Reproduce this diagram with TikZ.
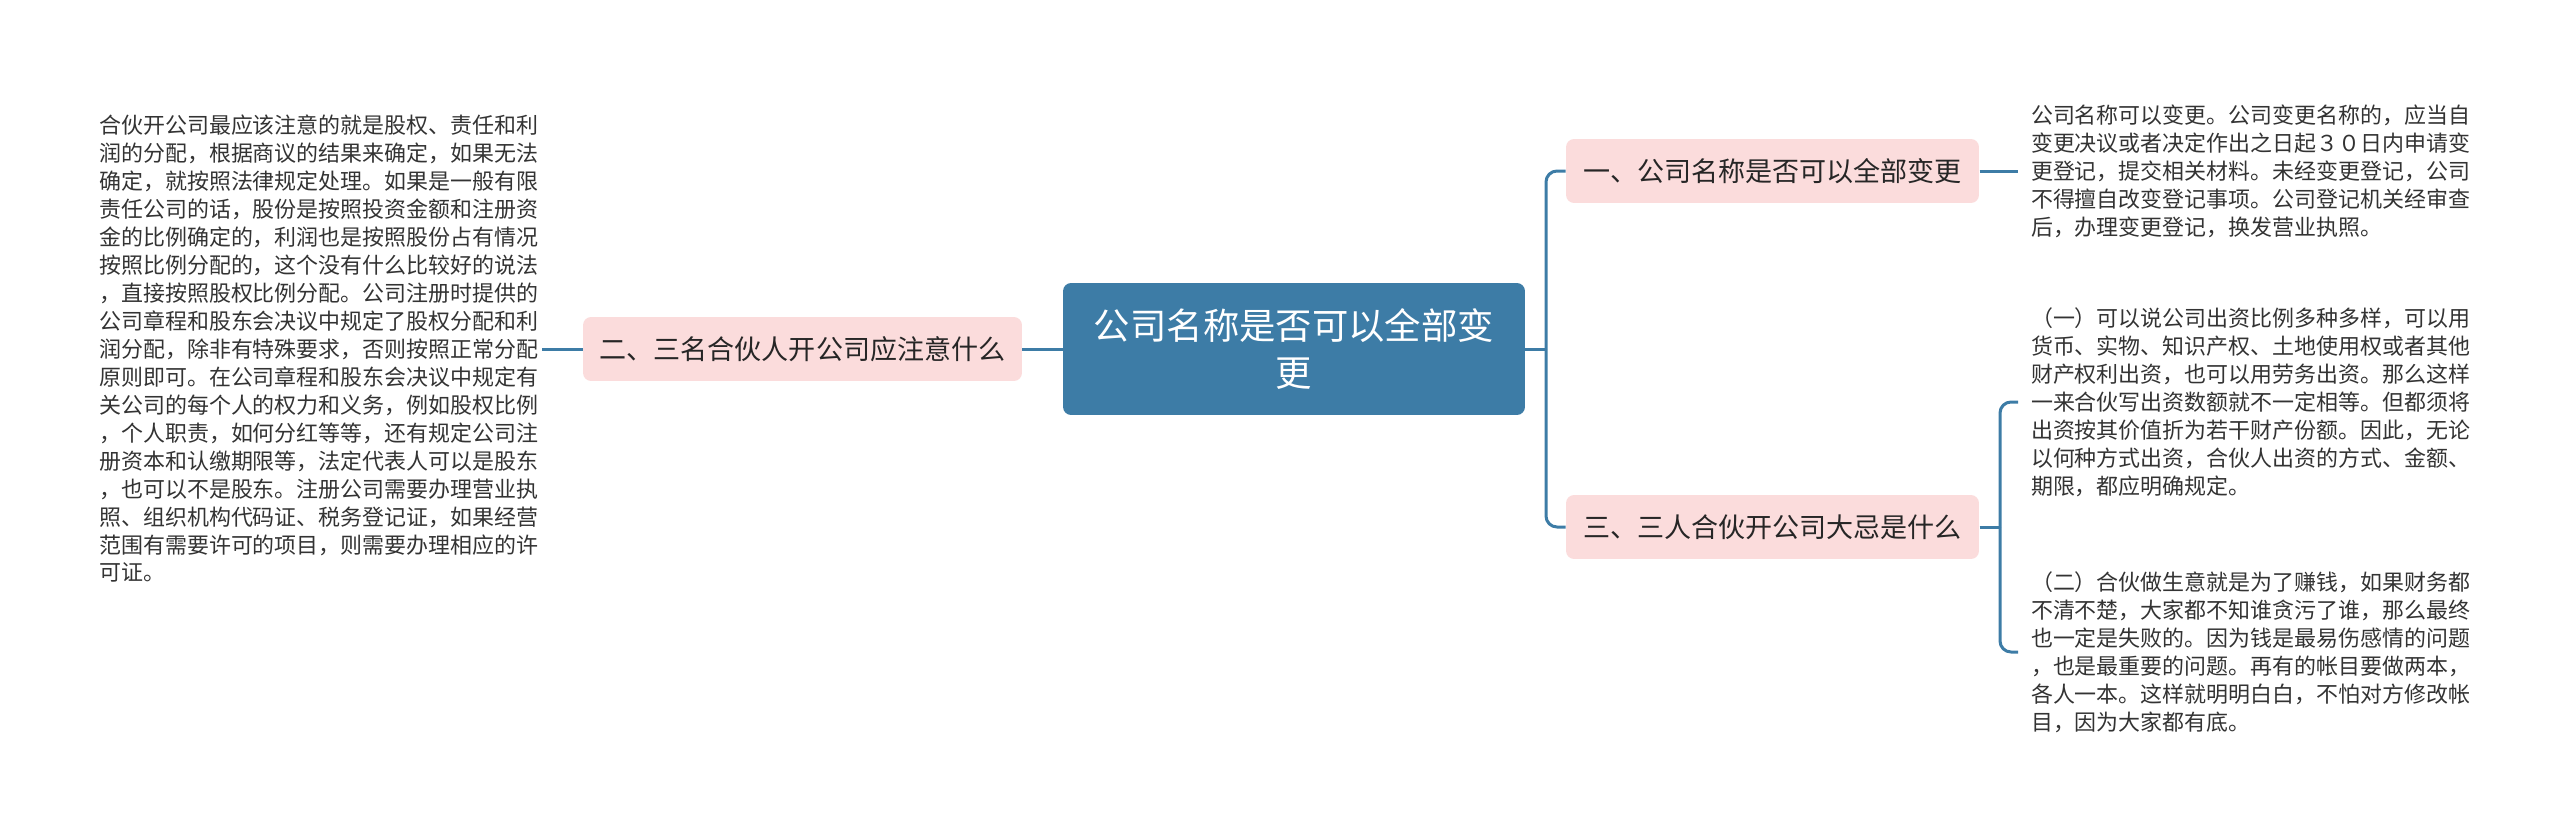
\documentclass[tikz,border=0pt]{standalone}
\usepackage{fontspec}
\setmainfont{Noto Sans CJK SC}
\usepackage{xcolor}
\usepackage{tikz}
\usetikzlibrary{positioning}
\definecolor{rootblue}{HTML}{3D7CA6}
\definecolor{branchpink}{HTML}{FBDCDC}
\definecolor{linkblue}{HTML}{3D7CA6}
\definecolor{bodygray}{HTML}{333333}

\begin{document}
\begin{tikzpicture}[x=0.02cm,y=-0.02cm,semithick]
 				 \tikzstyle{root}=[fill=rootblue, rounded corners=0.16cm, text=white, minimum width=9.24cm, minimum height=2.64cm, align=center, font=\fontsize{20.7pt}{26.7pt}\selectfont]
 				 \tikzstyle{branch}=[fill=branchpink, rounded corners=0.16cm, text=black!85, minimum height=1.28cm, font=\fontsize{15.4pt}{18pt}\selectfont]
 				 \tikzstyle{note}=[inner xsep=0.25cm, inner ysep=0pt, align=left, text=bodygray, font=\fontsize{12.5pt}{15.9pt}\selectfont]
 				 \tikzstyle{link}=[draw=linkblue, line width=0.06cm, rounded corners=0.22cm]
 				 \useasboundingbox (0,0) rectangle (2560,835);
 					 \node[root]                         (R)  at (1294,349)   {公司名称是否可以全部变\\更};
 					 \node[branch, minimum width=8.26cm] (B1) at (1772.5,171) {一、公司名称是否可以全部变更};
 					 \node[branch, minimum width=8.26cm] (B3) at (1772.5,527) {三、三人合伙开公司大忌是什么};
 					 \node[branch, minimum width=8.78cm] (B2) at (802.5,349)  {二、三名合伙人开公司应注意什么};
 					 \node[note, anchor=west]            (N1)  at (2018,171) {公司名称可以变更。公司变更名称的，应当自\\
变更决议或者决定作出之日起３０日内申请变\\
更登记，提交相关材料。未经变更登记，公司\\
不得擅自改变登记事项。公司登记机关经审查\\
后，办理变更登记，换发营业执照。};
 					 \node[note, anchor=west]            (N3a) at (2018,402) {（一）可以说公司出资比例多种多样，可以用\\
货币、实物、知识产权、土地使用权或者其他\\
财产权利出资，也可以用劳务出资。那么这样\\
一来合伙写出资数额就不一定相等。但都须将\\
出资按其价值折为若干财产份额。因此，无论\\
以何种方式出资，合伙人出资的方式、金额、\\
期限，都应明确规定。};
 					 \node[note, anchor=west]            (N3b) at (2018,652) {（二）合伙做生意就是为了赚钱，如果财务都\\
不清不楚，大家都不知谁贪污了谁，那么最终\\
也一定是失败的。因为钱是最易伤感情的问题\\
，也是最重要的问题。再有的帐目要做两本，\\
各人一本。这样就明明白白，不怕对方修改帐\\
目，因为大家都有底。};
 					 \node[note, inner xsep=0.06cm, anchor=east] (N2) at (542,349) {合伙开公司最应该注意的就是股权、责任和利\\
润的分配，根据商议的结果来确定，如果无法\\
确定，就按照法律规定处理。如果是一般有限\\
责任公司的话，股份是按照投资金额和注册资\\
金的比例确定的，利润也是按照股份占有情况\\
按照比例分配的，这个没有什么比较好的说法\\
，直接按照股权比例分配。公司注册时提供的\\
公司章程和股东会决议中规定了股权分配和利\\
润分配，除非有特殊要求，否则按照正常分配\\
原则即可。在公司章程和股东会决议中规定有\\
关公司的每个人的权力和义务，例如股权比例\\
，个人职责，如何分红等等，还有规定公司注\\
册资本和认缴期限等，法定代表人可以是股东\\
，也可以不是股东。注册公司需要办理营业执\\
照、组织机构代码证、税务登记证，如果经营\\
范围有需要许可的项目，则需要办理相应的许\\
可证。};
 					 \coordinate (J1) at (1546,349);
 					 \coordinate (J3) at (2000,527);
 					  \path[link] (R.east) -- (J1);
 					  \path[link] (J1) |- (B1.west);
 					  \path[link] (J1) |- (B3.west);
 					  \path[link] (B1.east) -- (N1.west);
 					  \path[link] (B3.east) -- (J3);
 					  \path[link] (J3) |- (N3a.west);
 					  \path[link] (J3) |- (N3b.west);
 					  \path[link] (B2.east) -- (R.west);
 					  \path[link] (N2.east) -- (B2.west);
				\end{tikzpicture}
\end{document}
